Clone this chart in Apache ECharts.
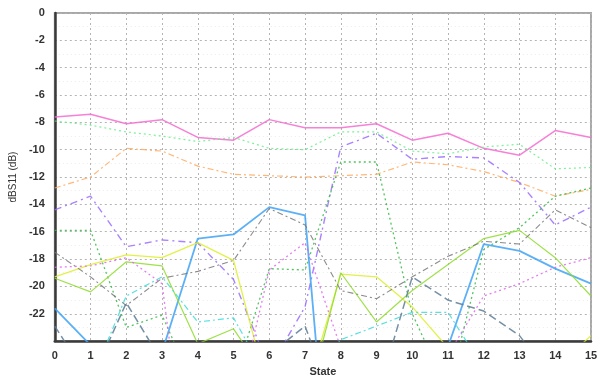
<!DOCTYPE html>
<html>
<head>
<meta charset="utf-8">
<script src="https://cdn.jsdelivr.net/npm/echarts@6/dist/echarts.min.js"></script>
<style>
  html, body { margin: 0; padding: 0; background: #fff; }
  #chart { width: 607px; height: 382px; }
</style>
</head>
<body>
<div id="chart"></div>
<script>
// states 0..15
const states = [0, 1, 2, 3, 4, 5, 6, 7, 8, 9, 10, 11, 12, 13, 14, 15];

// S11 per state (dB), values below -24 run off the bottom of the plot
const pinkSolid = [-7.6, -7.4, -8.1, -7.8, -9.1, -9.3, -7.8, -8.4, -8.4, -8.1, -9.3, -8.8, -9.9, -10.4, -8.6, -9.1];
const lightGreenDot = [-7.9, -8.2, -8.7, -9.0, -9.4, -9.1, -9.9, -10.0, -8.7, -8.7, -10.1, -10.3, -9.8, -9.6, -11.4, -11.3];
const orangeDashDot = [-12.8, -12.0, -9.9, -10.1, -11.2, -11.8, -11.9, -12.0, -11.9, -11.8, -10.9, -11.1, -11.6, -12.4, -13.4, -12.9];
const lavenderDash = [-14.4, -13.4, -17.1, -16.6, -16.8, -19.5, -26, -21.5, -9.8, -8.8, -10.7, -10.5, -10.6, -12.4, -15.5, -14.2];
const greenDashDot = [-15.9, -15.9, -23.0, -22.1, -28, -27, -18.7, -18.8, -10.9, -10.9, -22, -27.7, -17.3, -15.7, -13.4, -12.8];
const blueSolid = [-21.6, -24.3, -30, -24.8, -16.5, -16.2, -14.2, -14.8, -45, -40, -35, -24.4, -16.9, -17.4, -18.7, -19.8];
const yellowSolid = [-19.3, -18.4, -17.7, -17.9, -16.8, -18.1, -28, -28, -19.1, -19.3, -21.5, -24.5, -27, -27, -26, -23.6];
const limeSolid = [-19.4, -20.4, -18.2, -18.5, -24.2, -23.1, -27, -29, -19.0, -22.6, -20.3, -18.4, -16.5, -15.9, -17.9, -20.7];
const greyDash = [-17.5, -19.3, -21.4, -19.4, -18.9, -18.1, -14.3, -15.5, -20.3, -20.9, -19.3, -17.8, -16.7, -16.9, -14.4, -15.7];
const steelDash = [-22.9, -27, -21.2, -25.5, -28, -28, -25, -22.9, -30, -28.2, -19.3, -21.0, -21.8, -23.6, -27, -27];
const cyanDashDot = [-30, -27, -20.7, -19.3, -22.6, -22.3, -27, -27, -23.9, -22.9, -21.9, -21.9, -26, -27, -27, -27];
const magentaDot = [-18.6, -18.5, -17.9, -19.8, -40, -30, -18.8, -16.8, -24.5, -27, -27, -25, -20.7, -19.8, -18.6, -17.9];

const yTicks = [0, -2, -4, -6, -8, -10, -12, -14, -16, -18, -20, -22];

function pairs(vals) {
    return states.map((s, i) => [s, vals[i]]);
}

function line(name, vals, color, type, width) {
    return {
        name: name,
        type: 'line',
        data: pairs(vals),
        symbol: 'none',
        clip: true,
        animation: false,
        lineStyle: { color: color, type: type, width: width, opacity: 0.85 }
    };
}

let myChart = echarts.init(document.getElementById('chart'));
const fnt = 'Liberation Sans, Arial, sans-serif';

myChart.setOption({
    backgroundColor: '#fff',
    grid: {
        left: 53, right: 16, top: 13, bottom: 34,
        show: true, borderColor: '#a8a8a8', borderWidth: 2
    },
    xAxis: {
        type: 'value', min: 0, max: 15, interval: 1,
        name: 'State', nameLocation: 'middle', nameGap: 22,
        nameTextStyle: { fontFamily: fnt, fontSize: 11, color: '#333', fontWeight: 'bold' },
        axisLine: { show: true, onZero: false, lineStyle: { color: '#3a3a3a', width: 2.5 } },
        axisTick: { show: false },
        axisLabel: { fontFamily: fnt, fontSize: 11, color: '#333', fontWeight: 'bold', margin: 9 },
        splitLine: { show: true, lineStyle: { color: '#b4b4b4', type: [2, 3], width: 1 } },
        minorSplitLine: { show: false }
    },
    yAxis: {
        type: 'value', min: -24, max: 0, interval: 2,
        name: 'dBS11 (dB)', nameLocation: 'middle', nameGap: 36, nameRotate: 90,
        nameTextStyle: { fontFamily: fnt, fontSize: 10, color: '#333' },
        axisLine: { show: true, onZero: false, lineStyle: { color: '#3a3a3a', width: 2.5 } },
        axisTick: { show: false },
        axisLabel: {
            fontFamily: fnt, fontSize: 11, color: '#333', fontWeight: 'bold', margin: 10,
            formatter: v => (yTicks.indexOf(v) >= 0 ? String(v) : '')
        },
        splitLine: { show: true, lineStyle: { color: '#b4b4b4', type: [2, 3], width: 1 } },
        minorTick: { show: false, splitNumber: 2 },
        minorSplitLine: { show: true, lineStyle: { color: '#ececec', type: [1, 3] } }
    },
    series: [
        line('s1', pinkSolid, '#f46bd0', 'solid', 1.5),
        line('s2', lightGreenDot, '#66ee88', [2, 3], 1.2),
        line('s3', orangeDashDot, '#ffaa60', [6, 3, 2, 3], 1.2),
        line('s4', lavenderDash, '#9a6cff', [7, 4, 2, 4], 1.4),
        line('s5', greenDashDot, '#33bb44', [2, 3], 1.3),
        line('s6', blueSolid, '#3fa2f5', 'solid', 1.8),
        line('s7', yellowSolid, '#dcee2a', 'solid', 1.3),
        line('s8', limeSolid, '#8ddc2c', 'solid', 1.2),
        line('s9', greyDash, '#777777', [6, 3, 2, 3], 1.1),
        line('s10', steelDash, '#5d7b95', [8, 4], 1.5),
        line('s11', cyanDashDot, '#3ddbd8', [6, 3, 2, 3], 1.2),
        line('s12', magentaDot, '#e066f0', [2, 3], 1.3)
    ]
});
</script>
</body>
</html>
